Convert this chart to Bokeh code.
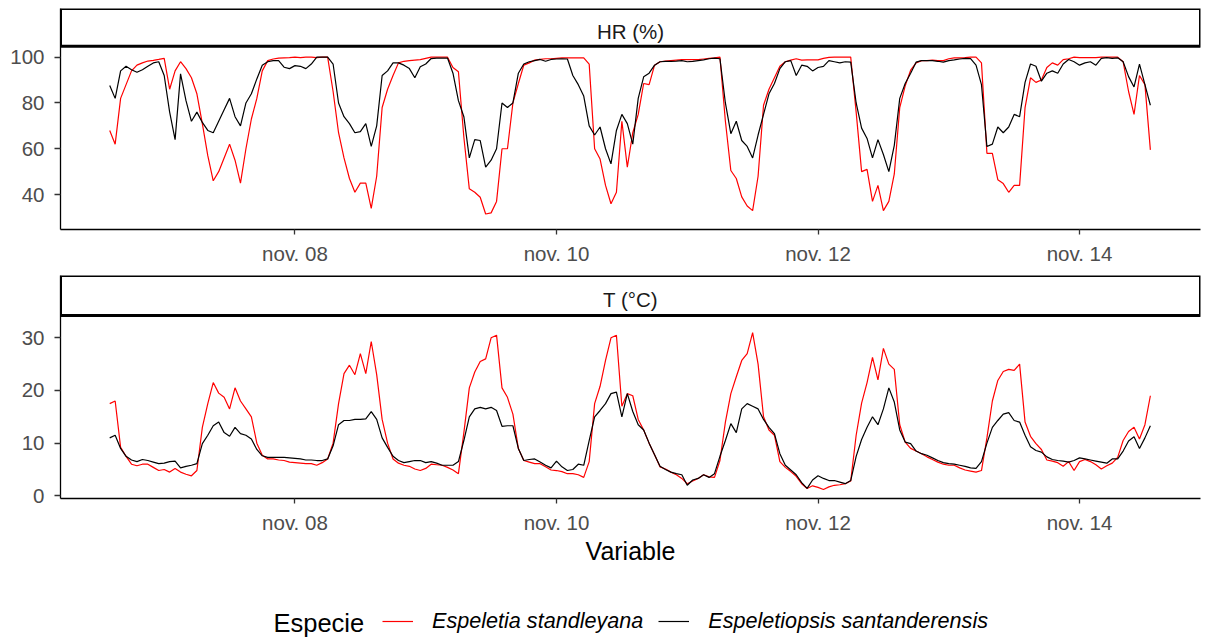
import pandas as pd
from bokeh.plotting import figure
from bokeh.models import (Range1d, FixedTicker, ColumnDataSource, Label, Legend, LegendItem)
from bokeh.layouts import column
from bokeh.embed import file_html
from bokeh.resources import INLINE

# ---------------- data (hourly readings, nov. 06 14:00 -> nov. 14 13:00) ----------------
start_time = "2022-11-06 14:00"

hr_red = [
    68, 62, 82, 88, 94, 96.5, 97.5, 98.3, 98.6, 99,
    99.5, 86, 94, 98, 95, 91, 84, 71, 57, 46,
    50, 56, 62, 55, 45, 60, 73, 82, 94, 98.5,
    99.2, 99.6, 99.7, 99.8, 100, 99.8, 100, 100, 99.8, 100,
    100, 85, 67, 56, 47, 41, 45, 45, 34, 48,
    78, 86, 92, 97.5, 98.2, 98.5, 98.7, 98.9, 99.5, 100,
    100, 100, 100, 95.5, 93.6, 65, 42.5, 41, 38.8, 31.5,
    32, 37, 60, 60, 80, 88.5, 96.5, 97.5, 98.7, 99,
    99.3, 99.3, 99.5, 99.7, 99.7, 99.7, 99.7, 99.7, 97, 60,
    55.5, 44, 36, 41, 72, 52, 67, 75, 88.5, 88,
    96.5, 98, 98.3, 98.5, 98.7, 98.9, 98.9, 98.9, 98.9, 99.2,
    99.5, 99.7, 100, 72, 50.5, 47, 39, 35, 33, 48,
    79, 86, 91, 96, 98, 98.7, 99.3, 98.7, 98.8, 98.8,
    98.8, 99.5, 99.9, 100, 100, 100, 100, 76, 50, 51,
    37, 44, 33, 37, 49, 78, 87.5, 94.3, 97.5, 98.5,
    98.5, 98.7, 98.5, 98.5, 99.3, 99.7, 99.7, 99.8, 100, 100,
    97.5, 58, 58, 46.5, 44.8, 41, 44, 44, 78, 91,
    89, 90, 95.5, 97.5, 96.5, 98.9, 99.3, 100, 99.8, 99.8,
    99.8, 99.8, 100, 100, 100, 100, 98, 85, 75, 92,
    88, 59.5,
]

hr_black = [
    87.6, 82, 94, 96, 94.5, 93.4, 94.5, 96, 97.5, 98,
    92, 76, 64, 92.7, 81, 72, 76, 71.5, 68, 67,
    72, 77, 82, 74, 70, 80, 84, 90.5, 96.5, 98,
    98.5, 98.5, 95.6, 95, 96.3, 96, 95, 97, 100, 100,
    100, 97, 80, 74, 71, 67, 67.5, 71, 61, 70,
    92, 94, 97.5, 97.5, 96.5, 95, 91, 95.8, 97, 99.4,
    99.6, 99.6, 99.6, 93, 81, 74, 56, 64, 63.6, 52,
    55, 60, 80, 78, 80, 93, 97, 98, 98.5, 99,
    98.2, 99, 99.2, 99.3, 99.2, 92, 88, 83, 70, 66,
    69.5, 60, 53.4, 68, 75, 71, 62, 82, 91.4, 93,
    96.5, 98, 98.2, 98.2, 98.3, 98.5, 98, 98.2, 98.5, 98.8,
    99.3, 99.6, 99.3, 80, 66.6, 72, 63.6, 61, 56, 66,
    75, 84, 88.5, 95, 98, 98.5, 92, 96.5, 96, 94,
    95.5, 96, 98.5, 98, 97.5, 98, 97.8, 80, 69, 64.5,
    56, 64, 57.5, 50, 61.5, 82, 88.5, 93, 97.8, 98.5,
    98.5, 98.5, 98.2, 97.8, 98.5, 98.8, 99.2, 99.5, 99.4, 96.5,
    88, 61, 62, 69.5, 67, 69.5, 75, 74, 89, 97,
    96, 89.5, 93, 94, 93, 97, 99, 98, 96.5, 97.5,
    98, 96.5, 99.5, 99.8, 99.5, 99.7, 98, 91.5, 87, 97,
    88, 79,
]

t_red = [
    17.5, 18, 9.2, 7.5, 6, 5.7, 6, 6, 5.4, 4.8,
    5, 4.5, 5.2, 4.5, 4.1, 3.8, 4.8, 13, 17.5, 21.5,
    19.5, 18.7, 16.5, 20.5, 18, 16.5, 15, 10, 7.7, 7,
    7, 6.8, 6.7, 6.4, 6.3, 6.2, 6.1, 6.1, 5.8, 6.3,
    7, 10, 17.5, 23.2, 24.8, 23, 27, 23.2, 29.3, 23,
    14.5, 10, 7, 6.2, 5.8, 5.6, 5.1, 4.8, 5.2, 6,
    5.9, 5.8, 5.4, 4.9, 4.2, 12, 20.5, 23.5, 25.5, 26,
    30, 30.5, 20.5, 18.7, 15.5, 9, 6.7, 6.4, 6.1, 6.1,
    5.5, 4.9, 4.8, 4.6, 4.2, 4.2, 4, 3.5, 6.5, 17.5,
    20.8, 25.7, 30, 30.5, 17, 19.4, 19, 14.5, 12.5, 10,
    7.8, 5.5, 5.1, 4.5, 4, 3.3, 2.3, 2.8, 3.3, 4,
    3.6, 3.5, 6.7, 14, 19.4, 22.6, 25.7, 27, 31, 25,
    15, 12.5, 11.5, 6.5, 5.4, 4.6, 3.7, 2.3, 1.4, 1.9,
    1.6, 1.2, 1.7, 2, 2.1, 2.3, 2.8, 11.5, 17.6, 21.5,
    26.3, 22, 28, 25, 24, 13.5, 10.2, 9, 8.5, 8,
    7.4, 6.9, 6.4, 6, 5.8, 5.8, 5.3, 4.9, 4.7, 4.5,
    4.8, 11, 18, 21.9, 23.6, 24, 23.8, 25, 14, 11.3,
    9.9, 8.8, 6.8, 6.6, 6.3, 5.6, 6.5, 4.8, 6.5, 6.9,
    6.5, 5.9, 5.1, 5.7, 6.2, 7.3, 10.5, 12.2, 13, 10.8,
    13.5, 19,
]

t_black = [
    11, 11.5, 9, 7.5, 6.8, 6.5, 6.9, 6.7, 6.4, 6.1,
    6.2, 6.5, 6.6, 5.3, 5.6, 5.8, 6.1, 9.9, 11.5, 13.3,
    14, 12, 11.3, 13, 11.8, 11.5, 10.8, 8.8, 7.6, 7.3,
    7.3, 7.3, 7.3, 7.2, 7.1, 7, 6.8, 6.8, 6.7, 6.7,
    7, 9.5, 13.5, 14.3, 14.3, 14.5, 14.5, 14.6, 16, 14.5,
    11, 9.2, 7.5, 6.7, 6.3, 6.5, 6.7, 6.7, 6.3, 6.5,
    6.2, 5.8, 5.8, 5.8, 6.5, 10.5, 15, 16.5, 16.8, 16.5,
    16.8, 16.2, 13.2, 13.3, 13.3, 9, 6.7, 6.9, 7, 6.4,
    5.8, 5.3, 6.6, 5.5, 4.8, 5, 6, 5.8, 10.5, 15,
    16.2, 17.5, 19.4, 19.7, 15, 19.4, 16, 13.5, 12.5, 10,
    7.8, 5.6, 5, 4.5, 4.2, 4, 2, 3, 3.3, 4,
    3.5, 4.2, 7.5, 10.5, 13.7, 12, 16.5, 17.5, 17, 16.5,
    14.5, 13, 11.8, 8, 5.8, 4.9, 4, 2.5, 1.4, 3,
    3.8, 3.3, 2.9, 2.9, 2.6, 2.3, 2.9, 7.5, 10.7, 13,
    15, 13.5, 16.5, 20.5, 17.8, 12.5, 10.2, 9.9, 8.5, 8,
    7.7, 7.2, 6.7, 6.3, 6.1, 6, 5.8, 5.6, 5.3, 5.2,
    6.5, 10, 13, 14.3, 15.5, 15.8, 14.3, 14, 11.5, 9.3,
    8.6, 8.3, 7.4, 6.9, 6.7, 6.6, 6.4, 6.7, 7.2, 7,
    6.8, 6.6, 6.4, 6.2, 7, 7, 8.5, 10.4, 11.2, 9,
    11, 13.3,
]

species = ["Espeletia standleyana", "Espeletiopsis santanderensis"]
species_colors = ["#FF0000", "#000000"]
legend_title = "Especie"
panel_titles = ["HR (%)", "T (\u00b0C)"]
tick_dates = ["2022-11-08", "2022-11-10", "2022-11-12", "2022-11-14"]
tick_labels = ["nov. 08", "nov. 10", "nov. 12", "nov. 14"]
hr_ticks = [40, 60, 80, 100]
t_ticks = [0, 10, 20, 30]

# ---------------- helpers ----------------
EPOCH = pd.Timestamp("1970-01-01")
def ms(ts):
    return float((pd.Timestamp(ts) - EPOCH) / pd.Timedelta(milliseconds=1))

times = pd.date_range(start_time, periods=len(hr_red), freq="h")
src = ColumnDataSource(dict(t=times, hr_r=hr_red, hr_b=hr_black, t_r=t_red, t_b=t_black))

x_lo = ms("2022-11-06 04:58")
x_hi = ms("2022-11-14 22:12")
x_mid = (x_lo + x_hi) / 2
tick_ms = [ms(d) for d in tick_dates]

FONT = "Liberation Sans"
TICK_COL = "#4D4D4D"


def make_panel(height, border_top, border_bottom, y0, y1, strip_bottom, strip_text_y,
               title, yticks, col_r, col_b):
    p = figure(width=1209, height=height, x_axis_type="datetime",
               x_range=Range1d(x_lo, x_hi), y_range=Range1d(y0, y1),
               output_backend="svg", toolbar_location=None,
               min_border_left=60, min_border_right=9,
               min_border_top=border_top, min_border_bottom=border_bottom)
    p.outline_line_color = None
    p.background_fill_color = "white"
    p.border_fill_color = "white"
    p.xgrid.visible = False
    p.ygrid.visible = False

    # strip
    p.quad(left=[x_lo], right=[x_hi], bottom=[strip_bottom], top=[y1],
           fill_color="white", line_color="black", line_width=3)
    p.add_layout(Label(x=x_mid, y=strip_text_y, text=title, text_align="center",
                       text_baseline="alphabetic", text_font=FONT,
                       text_font_size="20.5px", text_color="#1A1A1A"))

    r_r = p.line("t", col_r, source=src, line_color=species_colors[0], line_width=1.2)
    r_b = p.line("t", col_b, source=src, line_color=species_colors[1], line_width=1.2)

    for ax in (p.xaxis[0], p.yaxis[0]):
        ax.axis_line_color = "black"
        ax.axis_line_width = 1.3
        ax.major_tick_line_color = "#333333"
        ax.major_tick_line_width = 1.3
        ax.major_tick_in = 0
        ax.minor_tick_line_color = None
        ax.major_label_text_font = FONT
        ax.major_label_text_font_size = "20.5px"
        ax.major_label_text_color = TICK_COL

    xa = p.xaxis[0]
    xa.ticker = FixedTicker(ticks=tick_ms)
    xa.major_label_overrides = {t: l for t, l in zip(tick_ms, tick_labels)}
    xa.major_tick_out = 5
    xa.major_label_standoff = 7

    ya = p.yaxis[0]
    ya.ticker = FixedTicker(ticks=yticks)
    ya.major_tick_out = 6
    ya.major_label_standoff = 10
    return p, r_r, r_b


p1, _, _ = make_panel(270, 8, 41, 24.74, 121.25, 104.8, 111.3,
                      panel_titles[0], hr_ticks, "hr_r", "hr_b")
p2, _, _ = make_panel(322, 5, 94, -0.51, 41.83, 34.23, 37.3,
                      panel_titles[1], t_ticks, "t_r", "t_b")

xa2 = p2.xaxis[0]
xa2.axis_label = "Variable"
xa2.axis_label_text_font = FONT
xa2.axis_label_text_font_size = "25px"
xa2.axis_label_text_font_style = "normal"
xa2.axis_label_text_color = "black"
xa2.axis_label_standoff = 0

# ---------------- legend strip (same data, drawn off-range so only the key shows) -----------
P3_H = 46
p3 = figure(width=1209, height=P3_H, x_range=Range1d(60, 1200), y_range=Range1d(0, P3_H),
            output_backend="svg", toolbar_location=None,
            x_axis_location=None, y_axis_location=None,
            min_border_left=0, min_border_right=0, min_border_top=0, min_border_bottom=0)
p3.outline_line_color = None
p3.xgrid.visible = False
p3.ygrid.visible = False
# same series, far outside the visible range: only their legend keys appear
lr = p3.line("t", "t_r", source=src, line_color=species_colors[0], line_width=1.2)
lb = p3.line("t", "t_b", source=src, line_color=species_colors[1], line_width=1.2)

p3.add_layout(Label(x=273, y=15.5, text=legend_title, text_align="left",
                    text_baseline="alphabetic", text_font=FONT,
                    text_font_size="25.5px", text_color="black"))

legend = Legend(
    items=[LegendItem(label=species[0], renderers=[lr]),
           LegendItem(label=species[1], renderers=[lb])],
    orientation="horizontal", location=(322, 4),
    label_text_font=FONT, label_text_font_size="21.6px", label_text_font_style="italic",
    label_text_color="black",
    glyph_width=31, glyph_height=20, label_standoff=19, spacing=15,
    padding=0, margin=0, border_line_color=None, background_fill_alpha=0,
)
p3.add_layout(legend)

layout = column(p1, p2, p3, spacing=0)
open("out.html", "w").write(file_html(layout, INLINE))
